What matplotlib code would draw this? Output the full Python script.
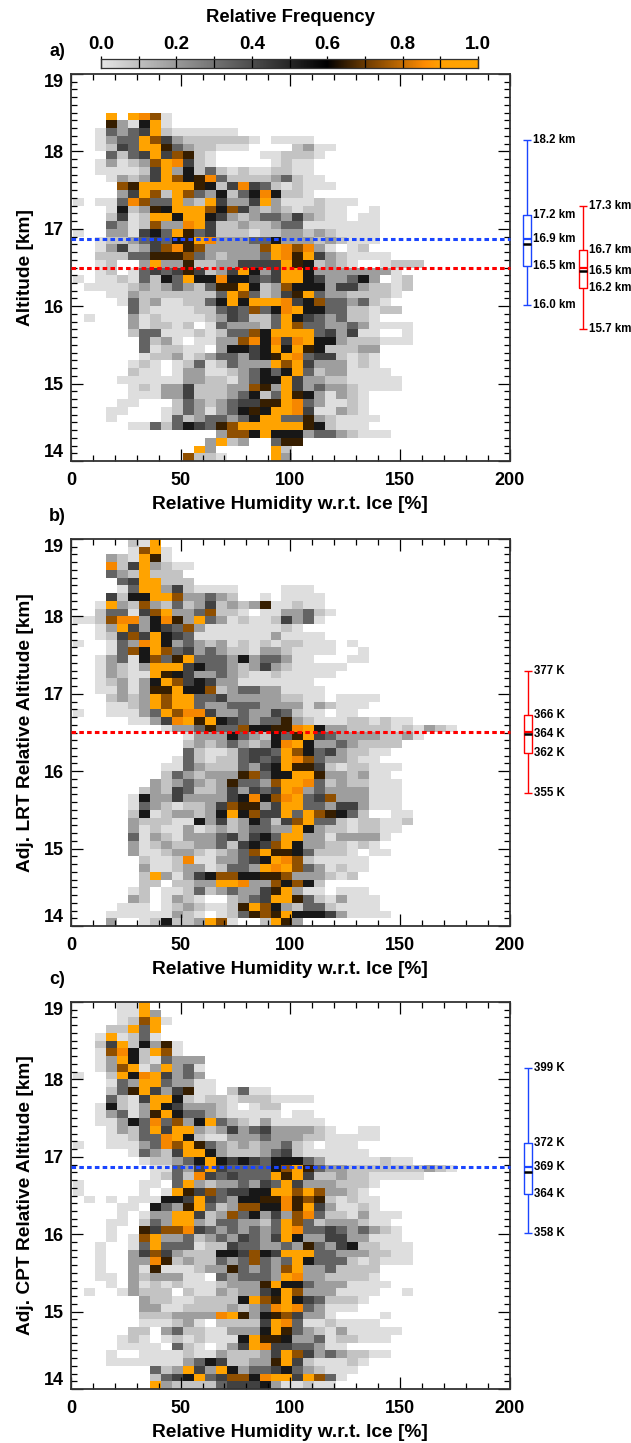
import numpy as np
import matplotlib
matplotlib.use("Agg")
import matplotlib.pyplot as plt
from matplotlib.colors import LinearSegmentedColormap

plt.rcParams['font.family'] = ['Liberation Sans', 'DejaVu Sans']
plt.rcParams['font.weight'] = 'bold'
plt.rcParams['axes.labelweight'] = 'bold'

# rows run from 19.0 km down to 14.0 km, columns from 1 % RHi in 5 % steps
# each character is one colour class, see LEVELS
PANEL_A = [
    "", "", "", "", "",
    "...X.X981",
    "...7316X1",
    "..14345X2111111",
    "..1344X8532222221.1111",
    "..1254XX74322111....2311",
    "...4245X58721....112221",
    "..131238X9521.....1211",
    "..111125X3624212112211",
    "...13235X86794222234211",
    "....87XXXXX7625954212111",
    "....35X82X843624696221",
    "1.1149844X32X5335X31112111",
    "...162376XXX8685323212211..1",
    "...2512XX6XX6532344353211.11",
    "...43128339X5223223441111111",
    "1..331564X745222122332321111",
    "..122345467X9333446333232111",
    "..1352358978333338X98931.12",
    "..2224477784323334X97X5321111",
    "..12..3X33722335555X762321..1222",
    "..12.1454575235X635XX633333331",
    "1.11214264X66966545XX6533463.12",
    ".11112323432477X623866635532212",
    "...11322222224X842357X43322221",
    "....1423112246X6XXX9568443421",
    ".....421111224548469X664422122",
    ".1...31211112354224X65434221",
    ".....312212.1433324X84433431111",
    ".....2441112124486XXXX453511..1",
    "......4231.1133896959X663222111",
    "......412211.36656X6X7622233",
    "......1223123443567X94552121",
    ".....121.124124333X8X5333121",
    ".....211.13311234646X42331111",
    "....111111332213466X5332211111",
    ".....12133522233873X5343321111",
    ".....11133522234624X7631321",
    "....11...2432345577X9431121",
    "...11...1243134676XX9511321",
    "...1....142344346XX447321111",
    ".....1142465478XXXXXX762111",
    ".............3886X66634432111",
    "............3X23..477",
    "...........X3.....X2",
    "..........8221....X3",
]

PANEL_B = [
    ".....21X",
    ".....18X1",
    "...321X71",
    "...925X3211",
    "...432X222",
    "....45XX222",
    "....14XX3521111....111",
    "...5266XX833432..1.1111",
    "..1X3283242352323711211",
    "..244158X3348221.1133421",
    "11289936973X43121125341",
    "..13X5365483111111121",
    "..12585X654111111131111",
    "1..1439X6343231212122111.1",
    "...1486X8453432213321111..1",
    "..13416847X44436344311...11",
    "..13213XXX564432353211111",
    "..13211X7653343211211111",
    "..123136X8565331111111",
    "..1131377X6682344331111",
    "...2323X8XX445333332211.1111",
    "...1123X8XX4334443333132111",
    "1..11134X89953343354211.11",
    ".....11359X7X654344732111221211",
    "........1334744866779X6332222121321",
    "..........13336432647X5433332231",
    "..........2323432369X633432222",
    "..........421124554X864532211",
    ".........1421224545X98433211",
    "........11432224356X7752122111",
    "........243233378466XX7332311",
    ".......323432374438XX942322111",
    "......2325422353545X9343333111",
    ".....163353333569689X458333111",
    ".....14321223587735XX443553111",
    ".....261233236X6855X4X87642..11",
    ".....3222116352364258X442122112",
    ".....312113123234433X632212211",
    ".....41321333453564XX33133331",
    ".....31232233425658X63322121",
    ".....311233212348X77642221.11",
    "......211291133456X98211111",
    "......31123312443X9X8431211",
    "......2X313568866778333212",
    "......22.2233XX93386862",
    ".....12.11242343357X311.111",
    ".....32.1321..2345XX74213111",
    "....111.12321127X86324421111",
    "...111111321.124787X666531111",
    "...3..126223X81..2X73",
]

PANEL_C = [
    "....11X",
    "....11X3",
    "....128X1",
    "...22X4X",
    "..1X1241",
    "..25X26371",
    "..18962X81",
    "..13X6214333",
    "..138X13X341",
    "1..2X69X5343",
    "...143XX43311",
    "...247X535711.2411",
    "...4215XX6212212221111",
    "..16213X6533321.122",
    "..134137X6443211111.11",
    "..1136494836X4321311111",
    "...1324X5XX3235345333321..11",
    "...112449X621133343332211111",
    "1..1113498X74323233421.111",
    ".....14325XX632223452111111",
    "......122346X656546664311111211",
    ".......11435X5444468X74332222222321",
    ".......12429545444X7X52232211111",
    "1.....11.4X32334354X53332221",
    "1.....1.1X75845566XX8X83321",
    ".1.1.111665X5436677978721211",
    "....11.6437X423886697X531121",
    "....1.133XX5238463538942213111",
    "...11.243XX32443324X842333211",
    "...1..7588954343434X9445434321",
    "...1.18X33423435435X6335533111",
    "..1..14X44412254433437435622111",
    "..1..35853222665865XXX443332211",
    "..1..339723224348434X6444212111",
    "..1..317111233743438X3342222",
    "..11.3233311.434443X93322221",
    "...1.3121211123337X6643331111",
    ".1..13222.211323356X83331111..1",
    "......3221122226X87X6542221",
    "......3311222232349X943111",
    "......22233339X736785331....1",
    "......111231.22225X941121111",
    ".....22.3422113336X74321311111",
    "....121.12121116X776334122111",
    "....1111.421.135X95544311",
    "...1..1111211322235X853432211",
    "...1111111346522337X5211121",
    ".......423X53X634456432111",
    ".......2456X458869XX5X841",
    ".......X3222245556311211",
]

LEVELS = {'.': np.nan, '1': 0.02, '2': 0.09, '3': 0.19, '4': 0.34, '5': 0.43,
          '6': 0.54, '7': 0.65, '8': 0.74, '9': 0.85, 'X': 0.95}

# box whiskers: top, box top, mean, box bottom, bottom, median
BOX_TROPO_CPT = [18.15, 17.18, 16.87, 16.52, 16.02, 16.80]
BOX_TROPO_LRT = [17.29, 16.73, 16.50, 16.23, 15.71, 16.46]
BOX_B_LRT = [17.30, 16.73, 16.50, 16.24, 15.72, 16.48]
BOX_C_CPT = [18.15, 17.18, 16.87, 16.52, 16.02, 16.80]

LABELS_A_CPT = ["18.2 km", "17.2 km", "16.9 km", "16.5 km", "16.0 km"]
LABELS_A_LRT = ["17.3 km", "16.7 km", "16.5 km", "16.2 km", "15.7 km"]
LABELS_B = ["377 K", "366 K", "364 K", "362 K", "355 K"]
LABELS_C = ["399 K", "372 K", "369 K", "364 K", "358 K"]

LRT_MEAN = 16.5
CPT_MEAN = 16.87
BLUE = '#1a45ff'
RED = '#ff0000'

W, H = 631, 1443
cmap = LinearSegmentedColormap.from_list('rfreq', [
    (0.0, '#e6e6e6'), (0.6, '#000000'), (0.7, '#6a3a00'),
    (0.8, '#c46c00'), (0.86, '#ff8c00'), (0.9, '#ffa000'), (1.0, '#ffa500')])


def decode(rows):
    out = []
    for row in rows:
        out.append([LEVELS[c] for c in row.ljust(40, '.')[:40]])
    return np.array(out)


def px_axes(fig, left, top, right, bottom):
    return fig.add_axes([left / W, 1 - bottom / H, (right - left) / W, (bottom - top) / H])


def draw_box(ax, xc, vals, color, labels, xtext, mid_on_median=False):
    top, q3, mean, q1, bot, median = vals
    hw = 1.9
    kw = dict(color=color, lw=1.0, clip_on=False, zorder=6, solid_capstyle='butt')
    ax.plot([xc, xc], [q3, top], **kw)
    ax.plot([xc, xc], [bot, q1], **kw)
    ax.plot([xc - hw, xc + hw], [top, top], **kw)
    ax.plot([xc - hw, xc + hw], [bot, bot], **kw)
    ax.plot([xc - hw, xc + hw, xc + hw, xc - hw, xc - hw], [q1, q1, q3, q3, q1], **kw)
    ax.plot([xc - hw, xc + hw], [mean, mean], color=color, lw=1.6, clip_on=False, zorder=6,
            solid_capstyle='butt')
    ax.plot([xc - hw, xc + hw], [median, median], color='black', lw=1.8, clip_on=False, zorder=7,
            solid_capstyle='butt')
    mid = median if mid_on_median else mean
    for v, s in zip([top, q3, mid, q1, bot], labels):
        ax.text(xtext, v, s, fontsize=8.3, ha='left', va='center', clip_on=False, color='black')


def panel(fig, rows, top, bottom, ylabel, letter, hlines):
    ax = px_axes(fig, 71, top, 509.5, bottom)
    xedges = np.append(1 + 5 * np.arange(40), 201.0)
    yedges = np.linspace(19, 14, 51)
    ax.pcolormesh(xedges, yedges, np.ma.masked_invalid(decode(rows)), cmap=cmap, vmin=0, vmax=1,
                  zorder=1)
    ax.set_xlim(0, 200)
    ax.set_ylim(14, 19)
    ax.set_xticks([0, 50, 100, 150, 200])
    ax.set_xticks(np.arange(0, 201, 10), minor=True)
    ax.set_yticks([14, 15, 16, 17, 18, 19])
    ax.set_yticks(np.arange(14, 19.01, 0.1), minor=True)
    ax.tick_params(which='major', direction='in', length=8.5, width=0.9, top=True, right=True,
                   labelsize=13, pad=8)
    ax.tick_params(which='minor', direction='in', length=4, width=0.9, top=True, right=True)
    ax.tick_params(axis='y', which='major', pad=5)
    for s in ax.spines.values():
        s.set_linewidth(1.3)
        s.set_color('#333333')
    labs = ax.get_yticklabels()
    labs[0].set_va('bottom')
    labs[-1].set_va('top')
    ax.set_xlabel("Relative Humidity w.r.t. Ice [%]", fontsize=13.8, labelpad=5)
    ax.set_ylabel(ylabel, fontsize=13.8, labelpad=7)
    for y, c in hlines:
        ax.axhline(y, color=c, lw=2.2, linestyle=(0, (1.5, 1.05)), zorder=4, clip_on=False)
    fig.text(49 / W, 1 - (top - 22) / H, letter, fontsize=13, ha='left', va='center')
    return ax


fig = plt.figure(figsize=(W / 100, H / 100), dpi=100, facecolor='white')

ax_a = panel(fig, PANEL_A, 74, 461, "Altitude [km]", "a)", [(CPT_MEAN, BLUE), (LRT_MEAN, RED)])
draw_box(ax_a, 207.9, BOX_TROPO_CPT, BLUE, LABELS_A_CPT, 210.9)
draw_box(ax_a, 233.5, BOX_TROPO_LRT, RED, LABELS_A_LRT, 236.3, mid_on_median=True)

ax_b = panel(fig, PANEL_B, 539, 926, "Adj. LRT Relative Altitude [km]", "b)", [(LRT_MEAN, RED)])
draw_box(ax_b, 208.4, BOX_B_LRT, RED, LABELS_B, 211.2, mid_on_median=True)

ax_c = panel(fig, PANEL_C, 1002, 1389, "Adj. CPT Relative Altitude [km]", "c)", [(CPT_MEAN, BLUE)])
draw_box(ax_c, 208.4, BOX_C_CPT, BLUE, LABELS_C, 211.2)

# colour bar on top
cax = px_axes(fig, 101, 59, 478, 68)
cax.imshow(np.linspace(0, 1, 512)[None, :], aspect='auto', cmap=cmap, vmin=0, vmax=1,
           extent=[0, 1, 0, 1])
cax.set_yticks([])
cax.set_xticks(np.arange(0, 1.01, 0.1))
cax.tick_params(axis='x', direction='in', length=9, width=0.9, labelbottom=False, bottom=True)
for s in cax.spines.values():
    s.set_linewidth(0.9)
    s.set_color('#333333')
for v in [0.0, 0.2, 0.4, 0.6, 0.8, 1.0]:
    cax.text(v, 2.6, f"{v:.1f}", fontsize=13.5, ha='center', va='center', clip_on=False)
fig.text(290.5 / W, 1 - 17.5 / H, "Relative Frequency", fontsize=13.3, ha='center', va='center')

fig.savefig("out.png", dpi=100, facecolor='white')
